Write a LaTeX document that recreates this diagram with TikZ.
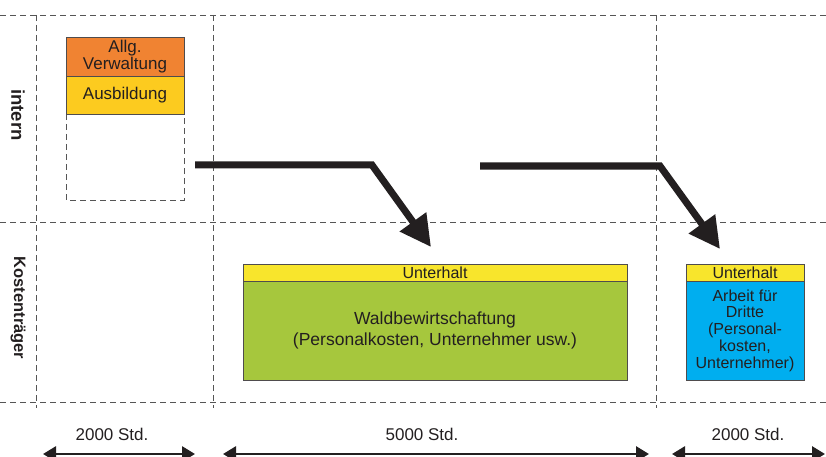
\documentclass[tikz,border=0pt]{standalone}
\usepackage{fontspec}
\setmainfont{Liberation Sans}
\usetikzlibrary{arrows.meta}
\definecolor{txt}{HTML}{231F20}
\definecolor{grid}{HTML}{555555}
\definecolor{orng}{HTML}{F08332}
\definecolor{ausb}{HTML}{FCCB1F}
\definecolor{unth}{HTML}{F8E52C}
\definecolor{grn}{HTML}{A6C73D}
\definecolor{blu}{HTML}{00AEEF}
\tikzset{
  gridline/.style={draw=grid, line width=0.9pt, dash pattern=on 6pt off 4pt},
  boxnode/.style={draw=txt!80, line width=0.8pt, anchor=north west, inner sep=0pt, outer sep=0pt, text=txt, align=center},
  bigarrow/.style={draw=txt, line width=7pt, line join=miter, -{Triangle[length=31pt,width=31pt]}},
  spanarrow/.style={draw=txt, line width=2.8pt, {Triangle[length=13pt,width=15pt]}-{Triangle[length=13pt,width=15pt]}},
  sidelabel/.style={font=\bfseries\fontsize{16.5}{18}\selectfont, text=txt, rotate=-90},
  spanlabel/.style={font=\fontsize{17}{19}\selectfont, text=txt}
}
\begin{document}
\begin{tikzpicture}[x=1pt,y=-1pt]
\clip (0,0) rectangle (826,457);
\fill[white] (0,0) rectangle (826,457);
% grid
\draw[gridline] (0,15) -- (826,15);
\draw[gridline] (0,222) -- (826,222);
\draw[gridline] (0,402) -- (826,402);
\draw[gridline] (36,15) -- (36,408);
\draw[gridline] (213,15) -- (213,408);
\draw[gridline] (656,15) -- (656,408);
% side labels
\node[sidelabel, font=\bfseries\fontsize{18.5}{20}\selectfont] (intern) at (18,115) {intern};
\node[sidelabel] (kt) at (18,308) {Kostenträger};
% left column
\draw[gridline] (66,114) -- (66,200) -- (184,200) -- (184,114);
\node[boxnode, fill=orng, minimum width=118pt, minimum height=39pt, font=\fontsize{17}{17}\selectfont] (allg) at (66,37) {Allg.\\Verwaltung};
\node[boxnode, fill=ausb, minimum width=118pt, minimum height=38pt, font=\fontsize{17}{17}\selectfont] (ausb) at (66,76) {Ausbildung};
% middle box
\node[boxnode, fill=unth, minimum width=384pt, minimum height=17pt, font=\fontsize{16}{16}\selectfont] (u1) at (243,264) {Unterhalt};
\node[boxnode, fill=grn, minimum width=384pt, minimum height=99pt, font=\fontsize{17.5}{21}\selectfont] (wald) at (243,281) {Waldbewirtschaftung\\(Personalkosten, Unternehmer usw.)};
% right box
\node[boxnode, fill=unth, minimum width=118pt, minimum height=17pt, font=\fontsize{16}{16}\selectfont] (u2) at (686,264) {Unterhalt};
\node[boxnode, fill=blu, minimum width=118pt, minimum height=99pt, font=\fontsize{16}{16.8}\selectfont] (arb) at (686,281) {Arbeit für\\Dritte\\(Personal-\\kosten,\\Unternehmer)};
% big arrows
\coordinate (a1s) at (195,165);
\coordinate (a1k) at (372,165);
\coordinate (a1e) at (431,247);
\coordinate (a2s) at (480,166);
\coordinate (a2k) at (660,166);
\coordinate (a2e) at (720,249);
\draw[bigarrow] (a1s) -- (a1k) -- (a1e);
\draw[bigarrow] (a2s) -- (a2k) -- (a2e);
% span arrows
\coordinate (s1a) at (43,454); \coordinate (s1b) at (195,454);
\coordinate (s2a) at (223,454); \coordinate (s2b) at (649,454);
\coordinate (s3a) at (672,454); \coordinate (s3b) at (825,454);
\draw[spanarrow] (s1a) -- (s1b);
\draw[spanarrow] (s2a) -- (s2b);
\draw[spanarrow] (s3a) -- (s3b);
\node[spanlabel] (l1) at (112,434) {2000 Std.};
\node[spanlabel] (l2) at (422,434) {5000 Std.};
\node[spanlabel] (l3) at (748,434) {2000 Std.};
\end{tikzpicture}
\end{document}
